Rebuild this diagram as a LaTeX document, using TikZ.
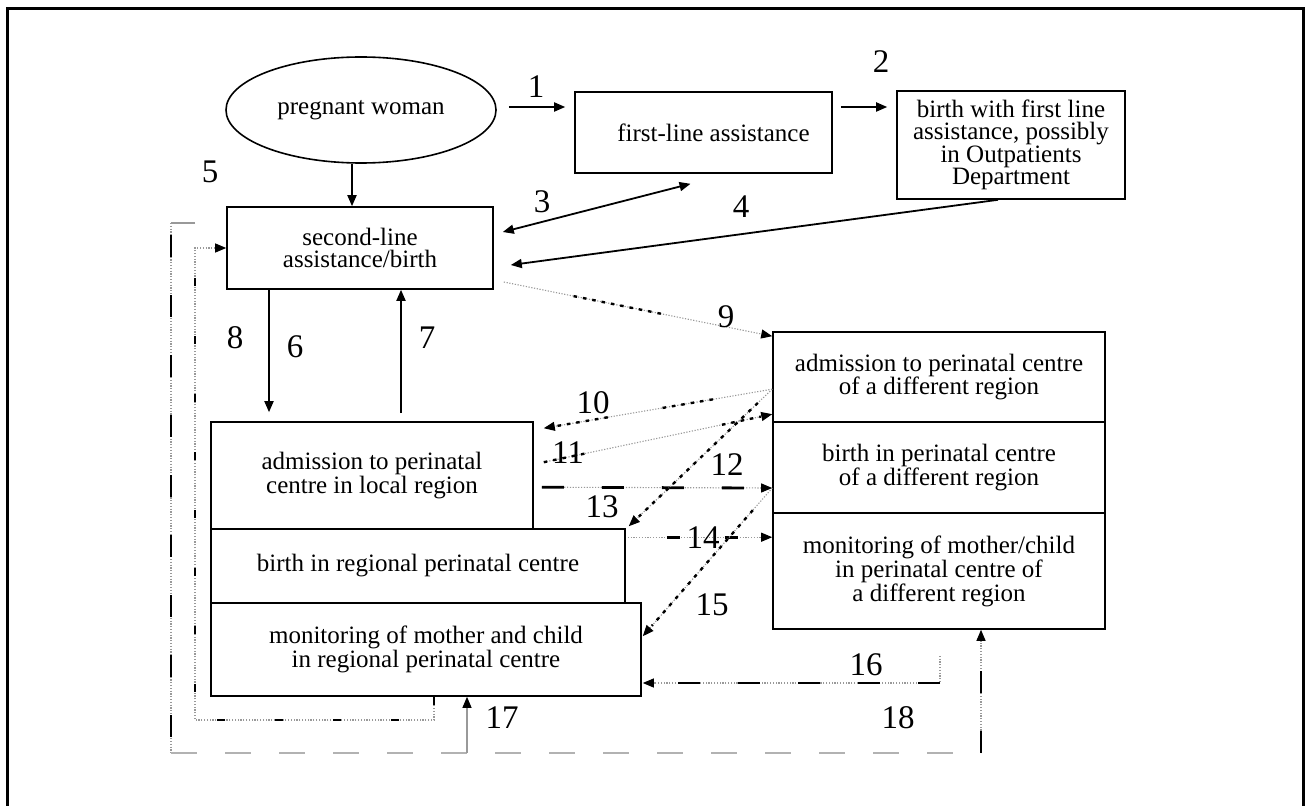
\documentclass[tikz,border=0pt]{standalone}
\usepackage{fontspec}
\setmainfont{Liberation Serif}
\usetikzlibrary{arrows.meta,calc,shapes.geometric}
\newcommand\boxfont{\fontsize{25}{22.5}\selectfont}
\newcommand\numfont{\fontsize{33}{33}\selectfont}
\begin{document}
\begin{tikzpicture}[x=1pt,y=-1pt,
 bx/.style={draw,line width=1.6pt,inner sep=0pt,align=center,font=\boxfont},
 arr/.style={line width=1.8pt,-{Triangle[length=11pt,width=9pt]}},
 darr/.style={line width=1.8pt,{Triangle[length=11pt,width=9pt]}-{Triangle[length=11pt,width=9pt]}},
 tipb/.style={-{Triangle[length=11pt,width=9pt,color=black]}},
 gdot/.style={draw=black!40,line width=1.1pt,dash pattern=on 1.2pt off 1.6pt},
 bsq/.style={draw=black,line width=2.4pt,dash pattern=on 3.5pt off 6pt},
 blong/.style={draw=black,line width=2.8pt,dash pattern=on 22pt off 38pt},
 bshort/.style={draw=black,line width=2.8pt,dash pattern=on 8pt off 50pt},
 gdash/.style={draw=black!30,line width=1.5pt,dash pattern=on 26pt off 28pt},
 gthin/.style={draw=black!40,line width=1.1pt},
 num/.style={font=\numfont,inner sep=0pt}]
\useasboundingbox (0,0) rectangle (1305,805);
\draw[line width=3pt] (7,9) rectangle (1303,840);

% nodes
\node[draw,ellipse,line width=1.6pt,minimum width=270pt,minimum height=106pt,inner sep=0pt,font=\boxfont] (pw) at (361,110) {pregnant woman};
\node[bx,minimum width=257pt,minimum height=81pt] (fl) at (703.5,132.5) {\hspace*{20pt}first-line assistance};
\node[bx,minimum width=228pt,minimum height=108pt] (bf) at (1011,145) {birth with first line\\assistance, possibly\\in Outpatients\\Department};
\node[bx,minimum width=266pt,minimum height=82pt] (sec) at (360,248) {second-line\\assistance/birth};
\node[bx,minimum width=332pt,minimum height=90pt] (rA) at (939,377) {admission to perinatal centre\\of a different region};
\node[bx,minimum width=332pt,minimum height=91pt] (rB) at (939,467.5) {birth in perinatal centre\\of a different region};
\node[bx,minimum width=332pt,minimum height=116pt] (rC) at (939,571) {monitoring of mother/child\\in perinatal centre of\\a different region};
\node[bx,minimum width=322pt,minimum height=107pt] (lA) at (372,475.5) {admission to perinatal\\centre in local region};
\node[bx,minimum width=414pt,minimum height=74pt] (lB) at (418,566) {birth in regional perinatal centre};
\node[bx,minimum width=430pt,minimum height=93pt] (lC) at (426,649.5) {monitoring of mother and child\\in regional perinatal centre};

% solid arrows
\draw[arr] ([shift={(12,-3)}]pw.east) -- ([shift={(-9,-25.5)}]fl.west);
\draw[arr] ([shift={(8,-25.5)}]fl.east) -- ([shift={(-9,-38)}]bf.west);
\draw[arr] ([xshift=-9pt]pw.south) -- ([xshift=-8pt]sec.north);
\draw[darr] ([shift={(9,-16)}]sec.east) -- ([shift={(-13,10)}]fl.south);
\draw[arr] ([xshift=-13pt]bf.south) -- ([shift={(17,17)}]sec.east);
\draw[arr] ([xshift=-91pt]sec.south) -- ([shift={(-103,-9)}]lA.north);
\draw[arr] ([shift={(29,-8)}]lA.north) -- ([xshift=41pt]sec.south);

% coordinates for the mixed connectors
\coordinate (a9s) at ([shift={(10,34)}]sec.east);
\coordinate (a9e) at ([shift={(0,5)}]rA.north west);
\coordinate (a10s) at ([shift={(0,58)}]rA.north west);
\coordinate (a10e) at ([shift={(10,7)}]lA.north east);
\coordinate (a11s) at ([shift={(10,41)}]lA.north east);
\coordinate (a11e) at ([shift={(0,-7)}]rB.north west);
\coordinate (a12s) at ([shift={(8,66)}]lA.north east);
\coordinate (a12e) at ([shift={(0,20.5)}]rB.west);
\coordinate (a13e) at ([shift={(3,-2)}]lB.north east);
\coordinate (a14s) at ([shift={(2,9)}]lB.north east);
\coordinate (a14e) at ([shift={(0,25)}]rC.north west);
\coordinate (a15e) at ([shift={(1,34)}]lC.north east);
\coordinate (a16s) at ([shift={(1,26)}]rC.south);
\coordinate (a16e) at ([shift={(1,33.5)}]lC.east);
\coordinate (o1) at (195,223);
\coordinate (o2) at (171,223);
\coordinate (o3) at (171,753);
\coordinate (o4) at (981,753);
\coordinate (b17) at (467,753);
\coordinate (a18e) at ([xshift=42pt]rC.south);
\coordinate (a17e) at ([xshift=41pt]lC.south);
\coordinate (i1) at ([xshift=8pt]lC.south);
\coordinate (i2) at (434,720);
\coordinate (i3) at (195,720);
\coordinate (i4) at (195,248);

% 9
\draw[gdot,tipb] (a9s) -- (a9e);
\draw[bsq] ($(a9s)!0.26!(a9e)$) -- ($(a9s)!0.6!(a9e)$);
% 10
\draw[gdot,tipb] (a10s) -- (a10e);
\draw[bsq] ($(a10s)!0.26!(a10e)$) -- ($(a10s)!0.5!(a10e)$);
\draw[bsq] ($(a10s)!0.72!(a10e)$) -- ($(a10s)!0.95!(a10e)$);
% 11
\draw[gdot,tipb] (a11s) -- (a11e);
\draw[bsq] (a11s) -- ($(a11s)!0.2!(a11e)$);
\draw[bsq] ($(a11s)!0.78!(a11e)$) -- ($(a11s)!0.95!(a11e)$);
% 12
\draw[gdot,tipb] (a12s) -- (a12e);
\draw[blong] (a12s) -- ($(a12e)+(-12,0)$);
% 13
\draw[gdot,tipb] (a10s) -- (a13e);
\draw[bsq] ($(a10s)!0.1!(a13e)$) -- ($(a10s)!0.93!(a13e)$);
% 14
\draw[gdot,tipb] (a14s) -- (a14e);
\draw[draw=black,line width=2.8pt,dash pattern=on 13pt off 45pt] ($(a14s)!0.27!(a14e)$) -- ($(a14s)!0.8!(a14e)$);
% 15
\draw[gdot,tipb] (a12e) -- (a15e);
\draw[bsq] ($(a12e)!0.15!(a15e)$) -- ($(a12e)!0.93!(a15e)$);
% 16
\draw[gdot,tipb] (a16s) |- (a16e);
\draw[blong] (a16s |- a16e) -- ($(a16e)+(12,0)$);
% outer loop, 17, 18
\draw[gthin] (o1) -- (o2);
\draw[gdot] (o2) -- (o3);
\draw[blong] ($(o2)+(0,12)$) -- (o3);
\draw[gdash] (o3) -- (o4);
\draw[gdot,tipb] (o4) -- (a18e);
\draw[blong] (o4) -- ($(o4)!0.9!(a18e)$);
\draw[gthin,tipb] (b17) -- (a17e);
% inner return
\draw[gdot,tipb] (i1) -- (i2) -- (i3) -- (i4) -- (sec.west);
\draw[bshort] (i1) -- (i2) -- (i3) -- (i4) -- ($(sec.west)+(-12,0)$);

% labels
\node[num] (l1) at (536,87) {1};
\node[num] (l2) at (881,62) {2};
\node[num] (l3) at (542,202) {3};
\node[num] (l4) at (741,207) {4};
\node[num] (l5) at (210,172) {5};
\node[num] (l6) at (295,347) {6};
\node[num] (l7) at (427,338) {7};
\node[num] (l8) at (235,338) {8};
\node[num] (l9) at (726,317) {9};
\node[num] (l10) at (593,403) {10};
\node[num] (l11) at (568,453) {11};
\node[num] (l12) at (727,465) {12};
\node[num] (l13) at (602,507) {13};
\node[num] (l14) at (703,538) {14};
\node[num] (l15) at (712,605) {15};
\node[num] (l16) at (866,665) {16};
\node[num] (l17) at (502,718) {17};
\node[num] (l18) at (898,718) {18};
\end{tikzpicture}
\end{document}
